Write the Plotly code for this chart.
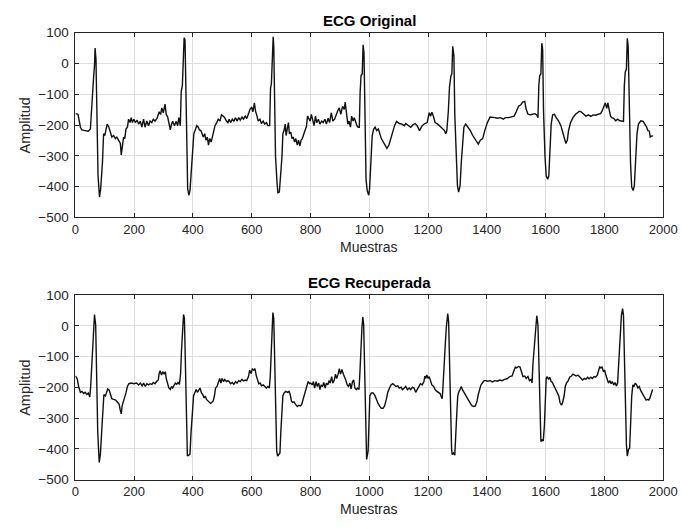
import plotly.graph_objects as go

# ---------------- data ----------------
top_samples = [0, 9, 17, 22, 33, 44, 51, 55, 59, 62, 65, 67, 70, 73, 77, 82, 86, 92, 96, 100, 104, 108, 114, 119, 124, 130, 136, 141, 147, 153, 156, 160, 164, 168, 172, 177, 181, 186, 190, 194, 199, 204, 210, 215, 221, 226, 232, 237, 243, 249, 254, 260, 265, 271, 278, 285, 290, 294, 299, 305, 309, 314, 318, 323, 327, 331, 337, 343, 348, 352, 357, 360, 364, 367, 370, 373, 376, 379, 382, 386, 390, 394, 399, 403, 409, 413, 418, 422, 427, 431, 435, 440, 444, 449, 453, 457, 462, 466, 471, 475, 481, 486, 492, 497, 503, 508, 514, 519,
               523, 528, 534, 539, 545, 550, 556, 561, 567, 572, 578, 583, 589, 594, 600, 604, 609, 613, 618, 622, 628, 633, 639, 644, 650, 655, 661, 664, 667, 670, 673, 675, 678, 681, 686, 689, 694, 698, 703, 706, 710, 714, 717, 722, 725, 728, 733, 737, 741, 746, 750, 755, 759, 764, 768, 772, 777, 781, 786, 790, 794, 799, 803, 807, 812, 817, 821, 827, 832, 838, 843, 849, 854, 860, 865, 871, 876, 882, 887, 892, 898, 903, 909, 915, 918, 923, 927, 931, 936, 940, 945, 949, 954, 958, 962, 966, 969, 972, 976, 979, 982, 986, 989, 993, 998, 1001, 1006, 1010, 1015, 1020, 1025, 1031,
               1041, 1052, 1060, 1067, 1074, 1086, 1093, 1102, 1111, 1119, 1124, 1133, 1141, 1149, 1156, 1163, 1171, 1180, 1189, 1197, 1204, 1209, 1213, 1219, 1224, 1233, 1241, 1249, 1256, 1260, 1264, 1269, 1273, 1278, 1281, 1284, 1288, 1291, 1296, 1300, 1304, 1309, 1313, 1318, 1322, 1328, 1336, 1344, 1352, 1360, 1367, 1371, 1378, 1386, 1393, 1402, 1411, 1419, 1427, 1436, 1447, 1456, 1463, 1474, 1486, 1493, 1500, 1508, 1516, 1522,
               1529, 1534, 1540, 1548, 1556, 1564, 1570, 1574, 1577, 1580, 1584, 1587, 1590, 1593, 1598, 1602, 1607, 1611, 1614, 1619, 1624, 1630, 1636, 1644, 1652, 1658, 1664, 1669, 1674, 1678, 1685, 1693, 1702, 1710, 1715, 1721, 1729, 1737, 1746, 1754, 1762, 1770, 1779, 1787, 1792, 1798, 1803, 1808, 1812, 1816, 1821, 1825, 1832, 1838, 1845, 1853, 1860, 1865, 1868, 1871, 1875, 1878, 1881, 1885, 1889, 1893, 1898, 1902, 1907, 1911, 1916, 1924, 1932, 1938, 1944, 1948, 1953, 1956, 1960, 1966]
top_amplitude = [-163, -165, -207, -216, -218, -220, -213, -134, -55, -44, -7, 50, 14, -218, -365, -434, -407, -323, -228, -234, -216, -197, -207, -223, -239, -234, -244, -239, -249, -260, -297, -260, -239, -244, -213, -207, -181, -192, -176, -192, -181, -192, -184, -197, -187, -207, -181, -207, -187, -202, -187, -192, -181, -187, -178, -157, -165, -144, -160, -132, -165, -174, -197, -216, -197, -188, -202, -188, -202, -176, -202, -92, -71, 3, 84, 77, -71, -281, -407, -428, -413, -355, -281, -228, -213, -202, -207, -216, -218, -228, -239, -228, -249, -239, -265, -244, -255, -239, -218, -202, -192, -181, -187, -167, -171, -176, -187, -192,
                 -181, -192, -181, -188, -176, -187, -176, -184, -174, -181, -171, -179, -163, -149, -142, -157, -128, -155, -171, -187, -181, -195, -187, -197, -192, -202, -202, -81, -65, -7, 87, 56, -144, -302, -386, -420, -418, -376, -302, -228, -218, -197, -234, -207, -192, -228, -223, -244, -239, -255, -244, -265, -249, -268, -249, -244, -228, -218, -205, -171, -181, -187, -165, -187, -202, -171, -192, -181, -197, -187, -192, -181, -197, -178, -192, -160, -187, -181, -165, -155, -144, -165, -139, -149, -125, -176, -197, -187, -207, -171, -187, -176, -192, -202, -207, -207, -92, -39, -34, 61, 35, -197, -376, -413, -428, -407, -323, -234, -213, -207, -218, -213,
                 -244, -260, -276, -265, -239, -202, -188, -195, -197, -202, -195, -202, -207, -199, -195, -202, -218, -202, -195, -192, -160, -171, -158, -174, -192, -197, -205, -213, -218, -228, -218, -155, -76, -39, -34, 56, 24, -165, -334, -397, -418, -397, -323, -239, -207, -197, -207, -218, -234, -247, -258, -262, -249, -244, -218, -192, -174, -174, -176, -178, -176, -181, -176, -176, -174, -171, -157, -139, -134, -125,
                 -123, -149, -165, -167, -165, -163, -167, -176, -71, -39, -34, 66, 45, -155, -302, -365, -376, -365, -302, -197, -167, -165, -176, -186, -202, -223, -244, -260, -249, -218, -192, -176, -165, -157, -155, -157, -165, -171, -167, -172, -167, -168, -165, -163, -155, -142, -128, -146, -128, -149, -171, -176, -178, -186, -181, -186, -188, -188, -71, -28, -18, 82, 56, -155, -323, -402, -413, -397, -323, -228, -197, -186, -188, -197, -207, -218, -220, -239, -236, -235]

bottom_samples = [0, 6, 11, 17, 22, 28, 33, 39, 44, 49, 52, 56, 61, 65, 69, 72, 76, 81, 85, 90, 94, 97, 102, 106, 110, 115, 119, 124, 130, 137, 144, 149, 152, 156, 159, 164, 168, 172, 177, 182, 190, 199, 208, 215, 221, 227, 232, 238, 243, 249, 254, 260, 265, 271, 276, 282, 285, 288, 293, 297, 302, 306, 309, 314, 318, 323, 327, 331, 336, 340, 345, 349, 354, 358, 361, 365, 368, 371, 375, 378, 381, 386, 390, 393, 398, 402, 407, 411, 415, 420, 424, 429, 433, 438, 442, 446, 451, 455, 460, 464, 469, 473, 477, 482, 486, 491, 495, 499, 504, 508, 514, 519,
                  523, 528, 534, 539, 545, 550, 556, 561, 567, 572, 578, 583, 589, 593, 598, 602, 607, 611, 615, 620, 624, 629, 633, 639, 644, 650, 655, 660, 663, 666, 670, 672, 675, 678, 682, 685, 688, 693, 696, 699, 703, 706, 710, 716, 722, 727, 731, 735, 739, 744, 749, 755, 760, 766, 770, 775, 779, 783, 788, 792, 797, 801, 806, 810, 814, 819, 823, 828, 832, 836, 841, 845, 850, 854, 859, 863, 867, 872, 876, 881, 885, 889, 894, 898, 902, 907, 912, 916, 920, 925, 929, 934, 938, 943, 947, 951, 956, 960, 965, 968, 971, 975, 978, 981, 985, 988, 991, 996, 999, 1002, 1007,
                  1013, 1019, 1024, 1030, 1036, 1041, 1047, 1052, 1058, 1063, 1069, 1074, 1080, 1086, 1091, 1097, 1102, 1108, 1113, 1119, 1124, 1130, 1136, 1141, 1147, 1152, 1158, 1163, 1169, 1174, 1180, 1186, 1189, 1192, 1196, 1200, 1204, 1209, 1213, 1219, 1224, 1230, 1236, 1241, 1244, 1248, 1250, 1253, 1258, 1262, 1267, 1270, 1273, 1277, 1280, 1282, 1287, 1291, 1294, 1298, 1301, 1304, 1309, 1313, 1318, 1322, 1328, 1333, 1339, 1344, 1350, 1356, 1361, 1367, 1371, 1376, 1380, 1386, 1391, 1397, 1402, 1411, 1419, 1427, 1436, 1444, 1452, 1460, 1469, 1478, 1486, 1491, 1497, 1502, 1508, 1513, 1518, 1523, 1529,
                  1534, 1540, 1545, 1551, 1554, 1557, 1562, 1566, 1570, 1574, 1577, 1580, 1584, 1588, 1592, 1596, 1599, 1602, 1605, 1610, 1614, 1619, 1623, 1627, 1632, 1636, 1641, 1645, 1649, 1654, 1658, 1663, 1667, 1671, 1677, 1682, 1688, 1693, 1699, 1704, 1710, 1715, 1721, 1726, 1732, 1737, 1743, 1748, 1754, 1759, 1765, 1770, 1776, 1779, 1784, 1788, 1792, 1797, 1801, 1805, 1810, 1814, 1819, 1823, 1827, 1832, 1836, 1841, 1845, 1848, 1852, 1855, 1858, 1862, 1865, 1868, 1871, 1875, 1878, 1882, 1886, 1889, 1893, 1897, 1901, 1905, 1910, 1914, 1919, 1923, 1927, 1933, 1937, 1942, 1946, 1951, 1955, 1959, 1964]
bottom_amplitude = [-163, -171, -197, -216, -213, -220, -216, -223, -218, -231, -197, -113, -28, 37, 3, -144, -344, -444, -418, -334, -239, -223, -228, -213, -205, -209, -223, -237, -239, -241, -249, -255, -271, -286, -260, -244, -239, -218, -197, -188, -186, -188, -186, -192, -186, -195, -186, -197, -188, -192, -188, -190, -184, -188, -181, -176, -155, -146, -160, -149, -157, -149, -171, -186, -202, -207, -197, -202, -195, -186, -190, -184, -190, -155, -81, -7, 37, 24, -123, -302, -423, -420, -416, -355, -260, -228, -216, -207, -216, -205, -202, -218, -223, -234, -228, -239, -244, -249, -252, -249, -244, -228, -202, -197, -186, -171, -186, -171, -181, -174, -181, -178,
                    -181, -188, -184, -190, -181, -186, -178, -181, -174, -179, -176, -178, -165, -144, -155, -139, -144, -139, -160, -176, -188, -186, -195, -192, -197, -202, -197, -202, -165, -81, 3, 43, 24, -144, -302, -407, -423, -416, -413, -344, -260, -228, -218, -213, -216, -213, -223, -244, -249, -247, -255, -262, -258, -260, -255, -239, -220, -213, -197, -181, -188, -186, -192, -181, -202, -181, -197, -186, -207, -192, -197, -184, -202, -186, -192, -178, -186, -165, -186, -176, -157, -171, -157, -139, -157, -142, -157, -165, -176, -192, -197, -186, -205, -181, -176, -202, -207, -202, -207, -155, -81, -7, 29, 3, -176, -355, -434, -407, -302, -228, -218,
                    -218, -226, -239, -252, -262, -268, -268, -260, -239, -216, -202, -192, -188, -192, -197, -195, -202, -199, -207, -202, -197, -207, -202, -207, -199, -202, -216, -207, -197, -188, -192, -181, -163, -171, -160, -171, -165, -181, -192, -197, -207, -213, -218, -220, -228, -237, -213, -144, -71, -7, 40, 14, -134, -281, -397, -418, -413, -420, -376, -281, -228, -216, -207, -197, -209, -216, -228, -237, -244, -252, -260, -262, -260, -244, -223, -207, -192, -184, -178, -178, -180, -178, -182, -178, -180, -176, -178, -174, -172, -165, -163, -149, -134, -136, -132, -134, -149, -165, -163,
                    -171, -165, -178, -174, -186, -123, -60, -7, 33, 3, -144, -281, -376, -371, -374, -323, -228, -171, -165, -174, -167, -181, -184, -192, -197, -207, -216, -228, -249, -258, -249, -228, -197, -186, -178, -167, -163, -157, -160, -163, -160, -165, -174, -176, -171, -174, -167, -172, -167, -171, -165, -167, -160, -146, -134, -136, -134, -149, -144, -160, -176, -186, -178, -188, -181, -192, -184, -195, -186, -134, -71, -7, 35, 56, 35, -92, -271, -386, -423, -402, -397, -323, -228, -192, -197, -186, -192, -202, -197, -209, -216, -228, -237, -241, -239, -241, -234, -218, -207]

panel_titles = ["ECG Original", "ECG Recuperada"]
x_label = "Muestras"
y_label = "Amplitud"
x_ticks = [0, 200, 400, 600, 800, 1000, 1200, 1400, 1600, 1800, 2000]
y_ticks = [-500, -400, -300, -200, -100, 0, 100]

# ---------------- figure ----------------
W, H = 694, 529
FONT = "Liberation Sans, Arial, Helvetica, sans-serif"
AXC = "#262626"
GRID = "#dedede"

px_left, px_right = 73.3, 676.7
panels_px = [(26.5, 216.5), (296.5, 486.5)]  # (top, bottom) in pixels

fig = go.Figure()
series = [(top_samples, top_amplitude), (bottom_samples, bottom_amplitude)]
for i, (xs, ys) in enumerate(series):
    suffix = "" if i == 0 else str(i + 1)
    fig.add_trace(go.Scatter(x=xs, y=ys, mode="lines",
                             line=dict(color="#111111", width=1.4),
                             xaxis="x" + suffix, yaxis="y" + suffix,
                             showlegend=False, hoverinfo="skip"))

layout = dict(width=W, height=H, margin=dict(l=0, r=0, t=0, b=0),
              paper_bgcolor="white", plot_bgcolor="white",
              font=dict(family=FONT, size=13, color=AXC), annotations=[])
xd = [px_left / W, px_right / W]
for i, (ptop, pbot) in enumerate(panels_px):
    suffix = "" if i == 0 else str(i + 1)
    yd = [1 - pbot / H, 1 - ptop / H]
    common = dict(showline=True, linecolor=AXC, linewidth=1, mirror="ticks",
                  ticks="inside", ticklen=4, tickcolor=AXC, tickwidth=1,
                  showgrid=True, gridcolor=GRID, gridwidth=1, zeroline=False,
                  fixedrange=True)
    layout["xaxis" + suffix] = dict(domain=xd, range=[0, 2000], tickvals=x_ticks,
                                    anchor="y" + suffix, ticklabelstandoff=0,
                                    tickfont=dict(family=FONT, size=13, color=AXC),
                                    **common)
    layout["yaxis" + suffix] = dict(domain=yd, range=[-500, 100], tickvals=y_ticks,
                                    anchor="x" + suffix, ticklabelstandoff=3,
                                    tickfont=dict(family=FONT, size=13.5, color=AXC),
                                    **common)
    cx = (px_left + px_right) / 2 / W
    layout["annotations"] += [
        dict(text="<b>" + panel_titles[i] + "</b>", x=cx, y=1 - (ptop - 12.5) / H,
             xref="paper", yref="paper", xanchor="center", yanchor="middle",
             showarrow=False, font=dict(family=FONT, size=15, color="black")),
        dict(text=x_label, x=cx, y=1 - (pbot + 30.5) / H,
             xref="paper", yref="paper", xanchor="center", yanchor="middle",
             showarrow=False, font=dict(family=FONT, size=14, color=AXC)),
        dict(text=y_label, x=22 / W, y=1 - (ptop + pbot) / 2 / H, textangle=-90,
             xref="paper", yref="paper", xanchor="center", yanchor="middle",
             showarrow=False, font=dict(family=FONT, size=14.5, color=AXC)),
    ]

fig.update_layout(**layout)
fig.write_html("out.html")
